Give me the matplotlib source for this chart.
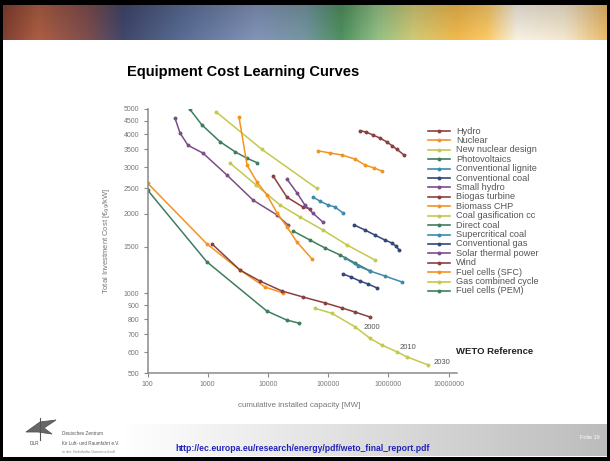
import matplotlib
matplotlib.use('Agg')
import matplotlib.pyplot as plt
import numpy as np
from matplotlib.colors import LinearSegmentedColormap
from matplotlib.patches import Rectangle, Polygon
from matplotlib.lines import Line2D
from matplotlib.ticker import FixedLocator, FixedFormatter, NullLocator

plt.rcParams['font.family'] = ['Liberation Sans', 'DejaVu Sans']

# colours used by the WETO chart (cycle of 7)
brown = '#8a4040'
orange = '#f29420'
ygreen = '#c4c84c'
green = '#3f7d5f'
blue = '#3d8aab'
navy = '#34477a'
purple = '#7b4e87'

# curves: (label, colour, x [MW], y [EUR/kW])
names = ['Hydro', 'Nuclear', 'New nuclear design', 'Photovoltaics',
         'Conventional lignite', 'Conventional coal', 'Small hydro',
         'Biogas turbine', 'Biomass CHP', 'Coal gasification cc',
         'Direct coal', 'Supercritical coal', 'Conventional gas',
         'Solar thermal power', 'Wind', 'Fuel cells (SFC)',
         'Gas combined cycle', 'Fuel cells (PEM)']
colors = [brown, orange, ygreen, green, blue, navy, purple,
          brown, orange, ygreen, green, blue, navy, purple,
          brown, orange, ygreen, green]

hydro_x = [3.39e5, 4.27e5, 5.57e5, 7.28e5, 9.5e5, 1.15e6, 1.39e6, 1.82e6]
hydro_y = [4120, 4075, 3970, 3865, 3735, 3620, 3505, 3335]
nuclear_x = [6.8e4, 1.08e5, 1.70e5, 2.8e5, 4.1e5, 5.78e5, 7.85e5]
nuclear_y = [3460, 3395, 3335, 3220, 3057, 2980, 2900]
newnuc_x = [1374, 7980, 6.5e4]
newnuc_y = [4860, 3500, 2494]
pv_x = [508, 804, 1600, 2840, 4500, 6590]
pv_y = [4957, 4331, 3746, 3432, 3242, 3120]
lignite_x = [5.6e4, 7.3e4, 9.96e4, 1.30e5, 1.77e5]
lignite_y = [2312, 2234, 2158, 2122, 2013]
coal_x = [2.69e5, 4.1e5, 6.0e5, 8.8e5, 1.15e6, 1.34e6, 1.51e6]
coal_y = [1815, 1736, 1661, 1591, 1550, 1510, 1459]
smallhydro_x = [286, 347, 470, 835, 2090, 5700, 14100, 21500]
smallhydro_y = [4600, 4040, 3630, 3390, 2800, 2250, 1980, 1815]
biogas_x = [12200, 20700, 38300, 50000]
biogas_y = [2780, 2310, 2120, 2090]
biomass_x = [100, 973, 3440, 8950, 17800]
biomass_y = [2613, 1537, 1225, 1057, 1004]
gasif_x = [2345, 6345, 1.59e4, 3.41e4, 8.2e4, 2.06e5, 6.0e5]
gasif_y = [3110, 2570, 2158, 1945, 1736, 1524, 1337]
direct_x = [26100, 50000, 89000, 158000, 280000, 497000]
direct_y = [1722, 1591, 1484, 1397, 1303, 1215]
supercrit_x = [191000, 314000, 497000, 880000, 1690000]
supercrit_y = [1361, 1270, 1215, 1163, 1104]
gas_x = [177000, 240000, 339000, 460000, 646000]
gas_y = [1184, 1153, 1113, 1085, 1049]
solar_x = [20700, 30400, 41000, 56000, 82000]
solar_y = [2705, 2400, 2160, 2010, 1860]
wind_x = [1180, 3440, 7390, 17100, 38300, 89000, 170000, 280000, 497000]
wind_y = [1537, 1225, 1113, 1021, 969, 920, 881, 850, 814]
sfc_x = [3310, 4500, 6590, 9660, 14200, 20800, 30400, 54000]
sfc_y = [4645, 3057, 2636, 2354, 2013, 1782, 1564, 1349]
gcc_x = [60600, 115000, 280000, 497000, 777000, 1380000, 2020000, 4620000]
gcc_y = [878, 841, 748, 676, 638, 602, 576, 536]
pem_x = [100, 962, 9550, 20500, 33200]
pem_y = [2460, 1318, 858, 793, 771]

xs = [hydro_x, nuclear_x, newnuc_x, pv_x, lignite_x, coal_x, smallhydro_x,
      biogas_x, biomass_x, gasif_x, direct_x, supercrit_x, gas_x, solar_x,
      wind_x, sfc_x, gcc_x, pem_x]
ys = [hydro_y, nuclear_y, newnuc_y, pv_y, lignite_y, coal_y, smallhydro_y,
      biogas_y, biomass_y, gasif_y, direct_y, supercrit_y, gas_y, solar_y,
      wind_y, sfc_y, gcc_y, pem_y]

year_labels = ['2000', '2010', '2030']
year_x = [5.36e5, 2.12e6, 7.8e6]
year_y = [746, 627, 550]

yticks = [500, 600, 700, 800, 900, 1000, 1500, 2000, 2500, 3000, 3500, 4000, 4500, 5000]
xticks = [100, 1000, 10000, 100000, 1000000, 10000000]

W, H = 610, 461
fig = plt.figure(figsize=(W / 100, H / 100), dpi=100)
fig.patch.set_facecolor('white')

# banner at the top
bax = fig.add_axes([0, 1 - 40 / H, 1, 35 / H])
stops = [(0.0, '#7a3b2e'), (0.06, '#a55a40'), (0.14, '#7a4a4a'), (0.2, '#3e4466'),
         (0.3, '#55688f'), (0.42, '#7d8db0'), (0.5, '#6f8f9a'), (0.56, '#4a8a5a'),
         (0.62, '#8cb880'), (0.68, '#c8c070'), (0.75, '#e6b048'), (0.8, '#f0c060'),
         (0.85, '#ece6da'), (0.93, '#e8dcc4'), (1.0, '#e0b060')]
bcmap = LinearSegmentedColormap.from_list('banner', stops)
grad = np.tile(np.linspace(0, 1, 400), (30, 1))
rgb = bcmap(grad)[:, :, :3]
shade = np.linspace(0.9, 1.05, 30)[:, None, None]
bax.imshow(np.clip(rgb * shade, 0, 1), aspect='auto', extent=(0, 1, 0, 1))
bax.axis('off')

# footer gradient
fax = fig.add_axes([0, 5 / H, 1, 32 / H])
fgrad = np.tile(np.clip((np.linspace(0, 1, 400) - 0.2) / 0.8, 0, 1), (10, 1))
fcmap = LinearSegmentedColormap.from_list('foot', ['#ffffff', '#bcbcbc'])
fax.imshow(fgrad, cmap=fcmap, aspect='auto', extent=(0, 1, 0, 1), vmin=0, vmax=1)
fax.axis('off')

# black slide frame
for r in [(0, 1 - 5 / H, 1, 5 / H), (0, 0, 1, 4 / H), (0, 0, 3 / W, 1), (1 - 3 / W, 0, 3 / W, 1)]:
    fig.add_artist(Rectangle(r[:2], r[2], r[3], transform=fig.transFigure,
                             facecolor='black', edgecolor='none', zorder=10))

fig.text(243 / W, 1 - 72 / H, 'Equipment Cost Learning Curves', ha='center', va='center',
         fontsize=10.5, fontweight='bold', color='black')

ax = fig.add_axes([147.5 / W, 88 / H, 309.8 / W, 264.5 / H])
for name, c, x, y in zip(names, colors, xs, ys):
    ax.plot(x, y, color=c, lw=1.1, marker='o', ms=1.8, label=name)

for t, x, y in zip(year_labels, year_x, year_y):
    ax.text(x, y, t, ha='center', va='center', fontsize=5.5, color='#555555')

ax.set_xscale('log')
ax.set_yscale('log')
ax.set_xlim(100, 1.4e7)
ax.set_ylim(500, 5000)
ax.yaxis.set_major_locator(FixedLocator(yticks))
ax.yaxis.set_major_formatter(FixedFormatter([str(v) for v in yticks]))
ax.yaxis.set_minor_locator(NullLocator())
ax.xaxis.set_major_locator(FixedLocator(xticks))
ax.xaxis.set_major_formatter(FixedFormatter([str(v) for v in xticks]))
ax.xaxis.set_minor_locator(NullLocator())
for s in ['top', 'right']:
    ax.spines[s].set_visible(False)
for s in ['left', 'bottom']:
    ax.spines[s].set_color('#8a8a8a')
    ax.spines[s].set_linewidth(1.1)
ax.tick_params(length=3, width=0.8, color='#8a8a8a', labelsize=5, labelcolor='#777777', pad=3)
ax.set_ylabel('Total Investment Cost [€$_{99}$/kW]', fontsize=5.5, color='#777777')
ax.yaxis.set_label_coords(-0.115, 0.5)
ax.set_xlabel('cumulative installed capacity [MW]', fontsize=5.8, color='#777777')
ax.xaxis.set_label_coords(0.49, -0.11)

# legend drawn row by row (fixed row pitch as in the original)
for i, (name, c) in enumerate(zip(names, colors)):
    yy = 1 - (131 + 9.41 * i) / H
    fig.add_artist(Line2D([428 / W, 450 / W], [yy, yy], transform=fig.transFigure,
                          color=c, lw=1.2))
    fig.add_artist(Line2D([439 / W], [yy], transform=fig.transFigure,
                          color=c, marker='o', ms=1.8, lw=0))
    fig.text(456 / W, yy, name, fontsize=6.6, color='#555555', ha='left', va='center')

fig.text(456 / W, 1 - 351 / H, 'WETO Reference', ha='left', va='center',
         fontsize=6.8, fontweight='bold', color='#222222')

# footer: DLR logo, url, page
logo = Polygon([(26 / W, 1 - 432 / H), (40 / W, 1 - 422 / H), (56 / W, 1 - 420 / H),
                (44 / W, 1 - 428 / H), (52 / W, 1 - 434 / H), (38 / W, 1 - 432 / H)],
               closed=True, transform=fig.transFigure, facecolor='#666666', edgecolor='#555555', lw=0.6)
fig.add_artist(logo)
fig.add_artist(Line2D([40 / W, 40 / W], [1 - 418 / H, 1 - 440 / H], transform=fig.transFigure,
                      color='#555555', lw=0.8))
fig.text(30 / W, 1 - 443 / H, 'DLR', fontsize=3.5, color='#555555', va='center')
fig.text(62 / W, 1 - 433 / H, 'Deutsches Zentrum', fontsize=3.3, color='#555555', va='center')
fig.text(62 / W, 1 - 443 / H, 'für Luft- und Raumfahrt e.V.', fontsize=3.3, color='#555555', va='center')
fig.text(62 / W, 1 - 452 / H, 'in der Helmholtz-Gemeinschaft', fontsize=2.8, color='#888888', va='center')
fig.text(175 / W, 1 - 448 / H, 'http://ec.europa.eu/research/energy/pdf/weto_final_report.pdf',
         fontsize=6.2, fontweight='bold', color='#2222bb', va='center')
fig.text(590 / W, 1 - 437 / H, 'Folie 19', fontsize=4, color='white', ha='center', va='center')

fig.savefig('out.png', dpi=100)
